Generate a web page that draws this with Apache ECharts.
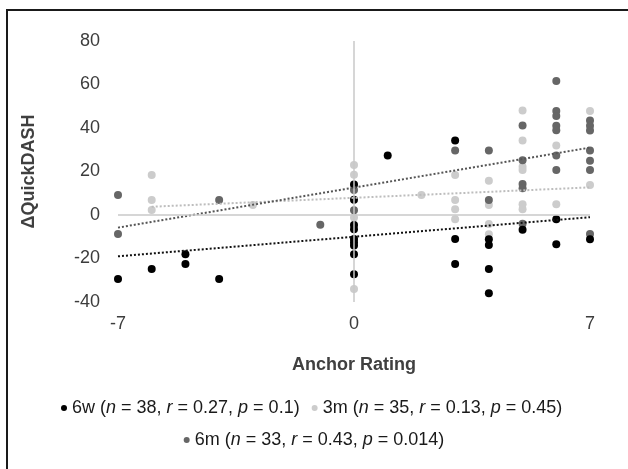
<!DOCTYPE html>
<html>
<head>
<meta charset="utf-8">
<script src="https://cdn.jsdelivr.net/npm/echarts@6/dist/echarts.min.js"></script>
<style>
    html, body { margin: 0; padding: 0; background: #fff; }
    #chart_container { width: 628px; height: 469px; }
</style>
</head>
<body>
<div id="chart_container"></div>
<script>
"use strict";

// tick labels
var xTicks = [-7, 0, 7];
var yTicks = [-40, -20, 0, 20, 40, 60, 80];

// series: [anchor rating, change in QuickDASH]
var sixWeeks = [
    [-7, -29.4], [-6, -24.8], [-5, -18], [-5, -22.5], [-4, -29.4],
    [0, 14], [0, 7], [0, -4.6], [0, -6.5], [0, -11], [0, -12.5], [0, -14], [0, -18], [0, -27.2],
    [1, 27.4], [3, 34.2], [3, -11], [3, -22.5],
    [4, -11.2], [4, -13.8], [4, -24.8], [4, -36],
    [5, -6.8], [6, -2], [6, -13.5], [7, -11.2]
];
var threeMonths = [
    [-6, 18.4], [-6, 6.9], [-6, 2.3], [-3, 4.6],
    [0, 23], [0, 18.5], [0, -1.2], [0, -34], [2, 9.2],
    [3, 18.4], [3, 6.9], [3, 2.6], [3, -2],
    [4, 15.8], [4, 4.6], [4, -4.1], [4, -8.9],
    [5, 48], [5, 34.2], [5, 22.2], [5, 20.7], [5, 5], [5, 2.6],
    [6, 31.9], [6, 4.9], [7, 47.8], [7, 13.8]
];
var sixMonths = [
    [-7, 9.2], [-7, -8.7], [-4, 6.9], [-1, -4.5], [0, 11.5], [0, 2.2],
    [3, 29.6], [4, 29.6], [4, 6.9],
    [5, 41.2], [5, 25.2], [5, 14.2], [5, 12.3], [5, -4],
    [6, 61.6], [6, 47.8], [6, 45.5], [6, 41], [6, 39], [6, 27.3], [6, 20.7],
    [7, 43.4], [7, 41], [7, 38.8], [7, 29.6], [7, 25], [7, 20.7], [7, -8.7]
];

// linear trend end points
var trend6w = [[-7, -19], [7, -1]];
var trend3m = [[-6, 3.8], [7, 12.7]];
var trend6m = [[-7, -5.8], [7, 31]];

var legendStats = {
    '6w': ['38', '0.27', '0.1'],
    '3m': ['35', '0.13', '0.45'],
    '6m': ['33', '0.43', '0.014']
};

var FONT = 'Liberation Sans, Arial, sans-serif';

function legendText(name) {
    var s = legendStats[name];
    return name + ' ({i|n} = ' + s[0] + ', {i|r} = ' + s[1] + ', {i|p} = ' + s[2] + ')';
}

var legendStyle = {
    icon: 'circle',
    itemWidth: 6,
    itemHeight: 6,
    itemGap: 12,
    formatter: legendText,
    textStyle: {
        fontFamily: FONT,
        fontSize: 18,
        color: '#1a1a1a',
        rich: {
            i: { fontFamily: FONT, fontSize: 18, fontStyle: 'italic', color: '#1a1a1a' }
        }
    }
};

function scatter(name, data, color) {
    return {
        name: name,
        type: 'scatter',
        data: data,
        symbolSize: 8,
        itemStyle: { color: color, opacity: 1 }
    };
}

function trendLine(name, data, color) {
    return {
        name: name,
        type: 'line',
        data: data,
        symbol: 'none',
        silent: true,
        lineStyle: { color: color, width: 2, type: [2, 2] }
    };
}

var myChart = echarts.init(document.getElementById('chart_container'));

var option = {
    backgroundColor: '#fff',
    animation: false,
    graphic: [
        { type: 'polyline', shape: { points: [[7, 469], [7, 10], [628, 10]] },
          style: { stroke: '#1a1a1a', lineWidth: 2, fill: null } }
    ],
    grid: { left: 118, right: 38, top: 41, bottom: 167 },
    legend: [
        echarts.util.extend({ data: ['6w', '3m'], top: 394, left: 56 }, legendStyle),
        echarts.util.extend({ data: ['6m'], top: 426, left: 'center' }, legendStyle)
    ],
    xAxis: {
        type: 'value',
        min: xTicks[0],
        max: xTicks[xTicks.length - 1],
        interval: 7,
        name: 'Anchor Rating',
        nameLocation: 'middle',
        nameGap: 54,
        nameTextStyle: { fontFamily: FONT, fontSize: 18, fontWeight: 'bold', color: '#404040' },
        axisLine: { show: false },
        axisTick: { show: false },
        splitLine: { show: false },
        axisLabel: { margin: 13, fontFamily: FONT, fontSize: 18, color: '#3c3c3c' }
    },
    yAxis: {
        type: 'value',
        min: yTicks[0],
        max: yTicks[yTicks.length - 1],
        interval: 20,
        name: 'ΔQuickDASH',
        nameLocation: 'middle',
        nameGap: 80,
        nameTextStyle: { fontFamily: FONT, fontSize: 18, fontWeight: 'bold', color: '#404040' },
        axisLine: { show: false },
        axisTick: { show: false },
        splitLine: { show: false },
        axisLabel: { margin: 18, fontFamily: FONT, fontSize: 18, color: '#3c3c3c' }
    },
    series: [
        // zero lines
        {
            name: 'zero',
            type: 'line',
            data: [],
            silent: true,
            markLine: {
                symbol: 'none',
                silent: true,
                label: { show: false },
                lineStyle: { color: '#c8c8c8', width: 1.5, type: 'solid' },
                data: [{ xAxis: 0 }, { yAxis: 0 }]
            }
        },
        scatter('3m', threeMonths, '#cccccc'),
        scatter('6m', sixMonths, '#666666'),
        scatter('6w', sixWeeks, '#000000'),
        trendLine('3m trend', trend3m, '#bdbdbd'),
        trendLine('6m trend', trend6m, '#555555'),
        trendLine('6w trend', trend6w, '#111111')
    ]
};

myChart.setOption(option);
</script>
</body>
</html>
